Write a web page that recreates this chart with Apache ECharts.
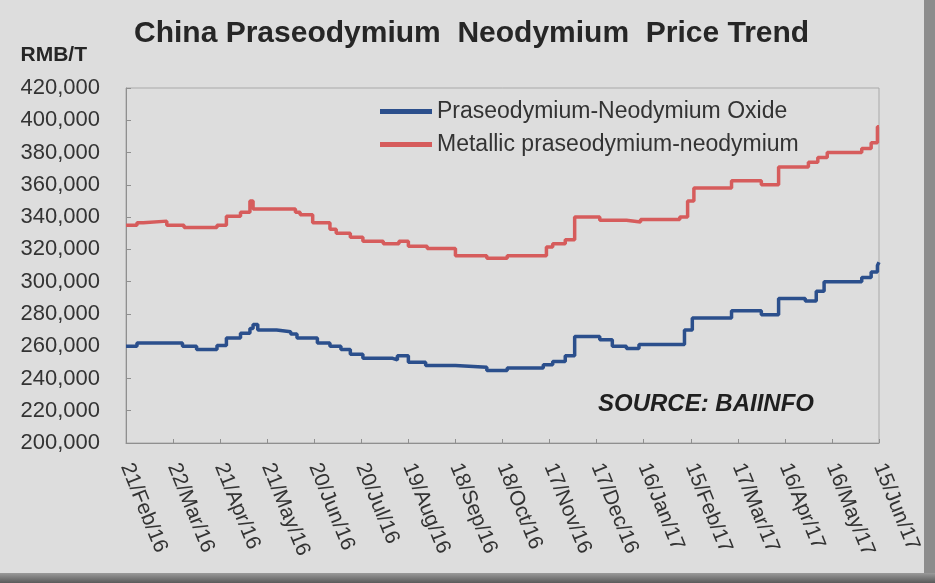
<!DOCTYPE html>
<html>
<head>
<meta charset="utf-8">
<script src="https://cdn.jsdelivr.net/npm/echarts@6/dist/echarts.min.js"></script>
<style>
  html, body { margin: 0; padding: 0; background: #dddddd; }
  #chart { width: 935px; height: 583px; }
</style>
</head>
<body>
<div id="chart"></div>
<script>
// Daily price series, recorded as the dates on which the price changed.
const startDate = '2016-02-21';
const endDate = '2017-06-15';

const tickLabels = [
  '21/Feb/16', '22/Mar/16', '21/Apr/16', '21/May/16', '20/Jun/16', '20/Jul/16',
  '19/Aug/16', '18/Sep/16', '18/Oct/16', '17/Nov/16', '17/Dec/16', '16/Jan/17',
  '15/Feb/17', '17/Mar/17', '16/Apr/17', '16/May/17', '15/Jun/17'
];

// Praseodymium-Neodymium Oxide (RMB/T)
const oxideDates = [
  '2016-02-21', '2016-02-28', '2016-03-28', '2016-04-06', '2016-04-19', '2016-04-25',
  '2016-05-04', '2016-05-10', '2016-05-12', '2016-05-15', '2016-05-27', '2016-06-05',
  '2016-06-09', '2016-06-22', '2016-06-30', '2016-07-07', '2016-07-13', '2016-07-21',
  '2016-08-09', '2016-08-12', '2016-08-19', '2016-08-30', '2016-09-18', '2016-10-08',
  '2016-10-21', '2016-11-13', '2016-11-19', '2016-11-27', '2016-12-03', '2016-12-19',
  '2016-12-27', '2017-01-05', '2017-01-13', '2017-02-11', '2017-02-16', '2017-03-13',
  '2017-04-01', '2017-04-12', '2017-04-29', '2017-05-06', '2017-05-11', '2017-06-04',
  '2017-06-10', '2017-06-14', '2017-06-15'
];
const oxidePrices = [
  260000, 262000, 260000, 258000, 260500, 265000,
  268000, 271000, 273500, 270000, 269000, 267500,
  265000, 262000, 260000, 258000, 255000, 252500,
  251500, 254000, 250000, 248000, 247000, 245000,
  246500, 248500, 250500, 254000, 266000, 264000,
  260000, 258500, 261000, 270000, 277500, 282000,
  279500, 289500, 288000, 294000, 300000, 302500,
  306000, 310000, 312000
];

// Metallic praseodymium-neodymium (RMB/T)
const metalDates = [
  '2016-02-21', '2016-02-28', '2016-03-03', '2016-03-18', '2016-03-29', '2016-04-19',
  '2016-04-25', '2016-05-04', '2016-05-10', '2016-05-12', '2016-06-08', '2016-06-11',
  '2016-06-19', '2016-06-30', '2016-07-04', '2016-07-13', '2016-07-21', '2016-08-03',
  '2016-08-13', '2016-08-19', '2016-08-31', '2016-09-18', '2016-10-08', '2016-10-21',
  '2016-11-15', '2016-11-19', '2016-11-27', '2016-12-03', '2016-12-19', '2017-01-05',
  '2017-01-14', '2017-02-08', '2017-02-13', '2017-02-17', '2017-03-13', '2017-04-01',
  '2017-04-12', '2017-05-01', '2017-05-07', '2017-05-13', '2017-06-04', '2017-06-10',
  '2017-06-14', '2017-06-15'
];
const metalPrices = [
  335000, 336500, 337500, 335000, 333500, 335000,
  340500, 343000, 350000, 345000, 343000, 341500,
  336500, 332500, 330000, 327500, 325000, 323500,
  325000, 322000, 320500, 316000, 314500, 316000,
  321500, 323500, 326000, 340000, 338000, 337000,
  338500, 340000, 350000, 358000, 362500, 360000,
  371000, 374000, 377000, 380000, 382500, 386000,
  396000, 396000
];

const DAY = 86400000;
const dayIndex = d => Math.round((Date.parse(d) - Date.parse(startDate)) / DAY);
const pairs = (dates, prices) => dates.map((d, i) => [dayIndex(d), prices[i]]);
const totalDays = dayIndex(endDate);

const FONT = '"Liberation Sans", Arial, sans-serif';
const chart = echarts.init(document.getElementById('chart'), null, { renderer: 'canvas' });

chart.setOption({
  backgroundColor: '#dddddd',
  animation: false,
  title: {
    text: 'China Praseodymium  Neodymium  Price Trend',
    left: 129,
    top: 14,
    textStyle: { fontFamily: FONT, fontSize: 30, fontWeight: 'bold', color: '#262626' }
  },
  legend: {
    orient: 'vertical',
    left: 375,
    top: 95,
    itemWidth: 52,
    itemHeight: 5,
    itemGap: 10,
    icon: 'rect',
    textStyle: { fontFamily: FONT, fontSize: 23, color: '#333333' },
    data: ['Praseodymium-Neodymium Oxide', 'Metallic praseodymium-neodymium']
  },
  grid: {
    left: 126, right: 56, top: 88, bottom: 140,
    show: true,
    borderColor: '#a9a9a9',
    borderWidth: 1,
    backgroundColor: 'transparent'
  },
  xAxis: {
    type: 'value',
    min: 0,
    max: totalDays,
    interval: 30,
    axisLine: { show: true, lineStyle: { color: '#8f8f8f', width: 1 } },
    axisTick: { show: true, inside: true, length: 4, lineStyle: { color: '#8f8f8f' } },
    splitLine: { show: false },
    axisLabel: {
      rotate: -68,
      margin: 21,
      fontFamily: FONT,
      fontSize: 21,
      color: '#333333',
      formatter: v => tickLabels[Math.round(v / 30)] || ''
    }
  },
  yAxis: {
    type: 'value',
    min: 200000,
    max: 420000,
    interval: 20000,
    name: 'RMB/T',
    nameLocation: 'end',
    nameGap: 22,
    nameTextStyle: {
      fontFamily: FONT, fontSize: 21, fontWeight: 'bold', color: '#262626',
      align: 'right', padding: [0, 39, 0, 0]
    },
    axisLine: { show: true, lineStyle: { color: '#8f8f8f', width: 1 } },
    axisTick: { show: true, inside: true, length: 5, lineStyle: { color: '#8f8f8f' } },
    splitLine: { show: false },
    axisLabel: {
      margin: 26,
      fontFamily: FONT,
      fontSize: 22,
      color: '#333333',
      formatter: v => v.toLocaleString('en-US')
    }
  },
  graphic: [
    {
      type: 'text',
      left: 598,
      top: 392,
      style: {
        text: 'SOURCE: BAIINFO',
        font: 'italic bold 24px "Liberation Sans", Arial, sans-serif',
        fill: '#1f1f1f'
      }
    },
    {
      type: 'rect',
      right: 0, top: 0,
      shape: { width: 11, height: 583 },
      style: { fill: '#8c8c8c' }
    },
    {
      type: 'rect',
      left: 0, bottom: 0,
      shape: { width: 935, height: 10 },
      style: {
        fill: new echarts.graphic.LinearGradient(0, 0, 0, 1, [
          { offset: 0, color: '#9a9a9a' },
          { offset: 1, color: '#5a5a5a' }
        ])
      }
    }
  ],
  series: [
    {
      name: 'Praseodymium-Neodymium Oxide',
      type: 'line',
      step: 'end',
      showSymbol: false,
      color: '#2b4f8c',
      lineStyle: { width: 3.5, color: '#2b4f8c' },
      data: pairs(oxideDates, oxidePrices)
    },
    {
      name: 'Metallic praseodymium-neodymium',
      type: 'line',
      step: 'end',
      showSymbol: false,
      color: '#d65c5c',
      lineStyle: { width: 3.5, color: '#d65c5c' },
      data: pairs(metalDates, metalPrices)
    }
  ]
});
</script>
</body>
</html>
